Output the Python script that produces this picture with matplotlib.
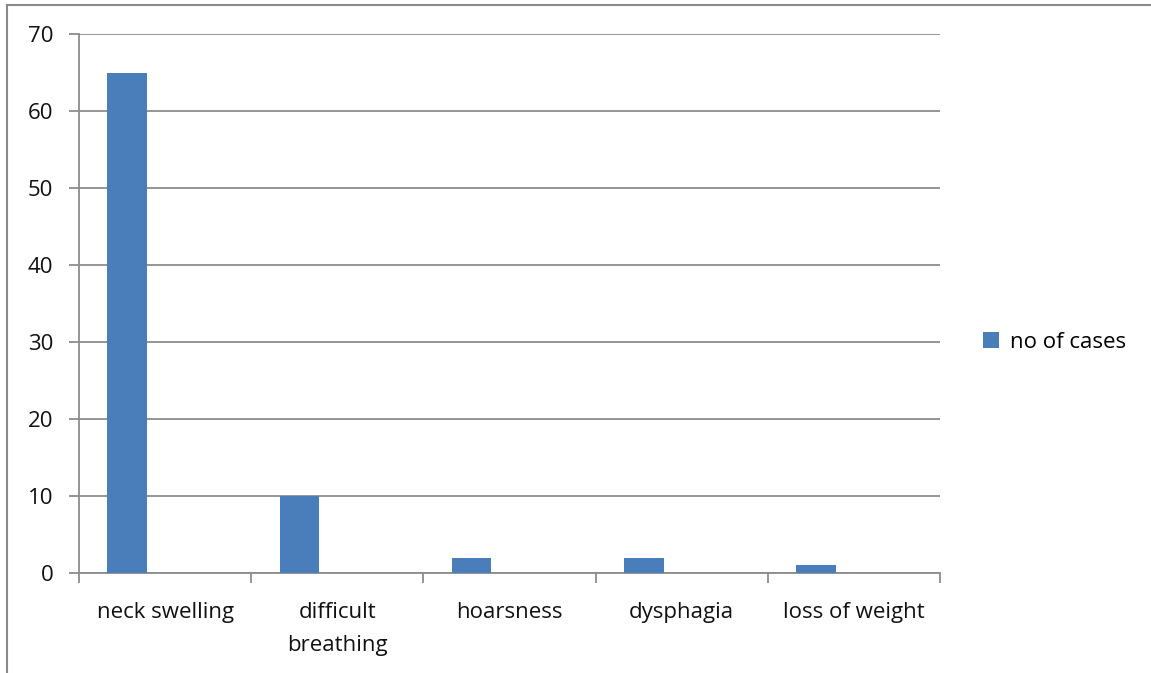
import numpy as np
import matplotlib.pyplot as plt
from matplotlib.lines import Line2D

# symptom counts
symptoms = ["neck swelling", "difficult\nbreathing", "hoarsness", "dysphagia", "loss of weight"]
cases = [65, 10, 2, 2, 1]
series_name = "no of cases"
y_ticks = [0, 10, 20, 30, 40, 50, 60, 70]

BAR_BLUE = "#4a7ebb"
GRID_GRAY = "#8c8c8c"
TEXT = "#111111"
FS = 16

plt.rcParams["font.family"] = ["Open Sans", "DejaVu Sans"]

W, H = 1151, 673
fig = plt.figure(figsize=(W / 100, H / 100), dpi=100)
ax = fig.add_axes([79 / W, 1 - 573 / H, (940 - 79) / W, (573 - 34) / H])

x = np.arange(len(symptoms))
# excel-style clustered slot: bar sits left of the category centre
ax.bar(x - 0.22, cases, width=0.23, color=BAR_BLUE, label=series_name, zorder=3)

ax.set_xlim(-0.5, len(symptoms) - 0.5)
ax.set_ylim(0, 70)
ax.set_yticks(y_ticks)
ax.yaxis.grid(True, color=GRID_GRAY, linewidth=1.3, zorder=0)

# category labels between boundary ticks
ax.set_xticks(x)
ax.set_xticklabels(symptoms, fontsize=FS, color=TEXT, linespacing=1.75)
ax.tick_params(axis="x", length=0, pad=21)
ax.set_xticks(np.arange(len(symptoms) + 1) - 0.5, minor=True)
ax.tick_params(axis="x", which="minor", length=7, width=1.3, color=GRID_GRAY, direction="out")
ax.tick_params(axis="y", length=7, width=1.3, color=GRID_GRAY, labelsize=FS,
               labelcolor=TEXT, pad=11.5)

for side in ["top", "right"]:
    ax.spines[side].set_visible(False)
for side in ["left", "bottom"]:
    ax.spines[side].set_color(GRID_GRAY)
    ax.spines[side].set_linewidth(1.3)

ax.legend(loc="center left", bbox_to_anchor=(972 / W, 1 - 342 / H), bbox_transform=fig.transFigure,
          frameon=False, fontsize=FS, handlelength=0.7, handleheight=0.7,
          handletextpad=0.5, borderpad=0)

# chart area border
fig.add_artist(Line2D([7 / W, 7 / W], [0, 1 - 5 / H], color="#8a8a8a", linewidth=1.5,
                      transform=fig.transFigure))
fig.add_artist(Line2D([7 / W, 1], [1 - 5 / H, 1 - 5 / H], color="#8a8a8a", linewidth=1.5,
                      transform=fig.transFigure))

fig.savefig("out.png", dpi=100)
